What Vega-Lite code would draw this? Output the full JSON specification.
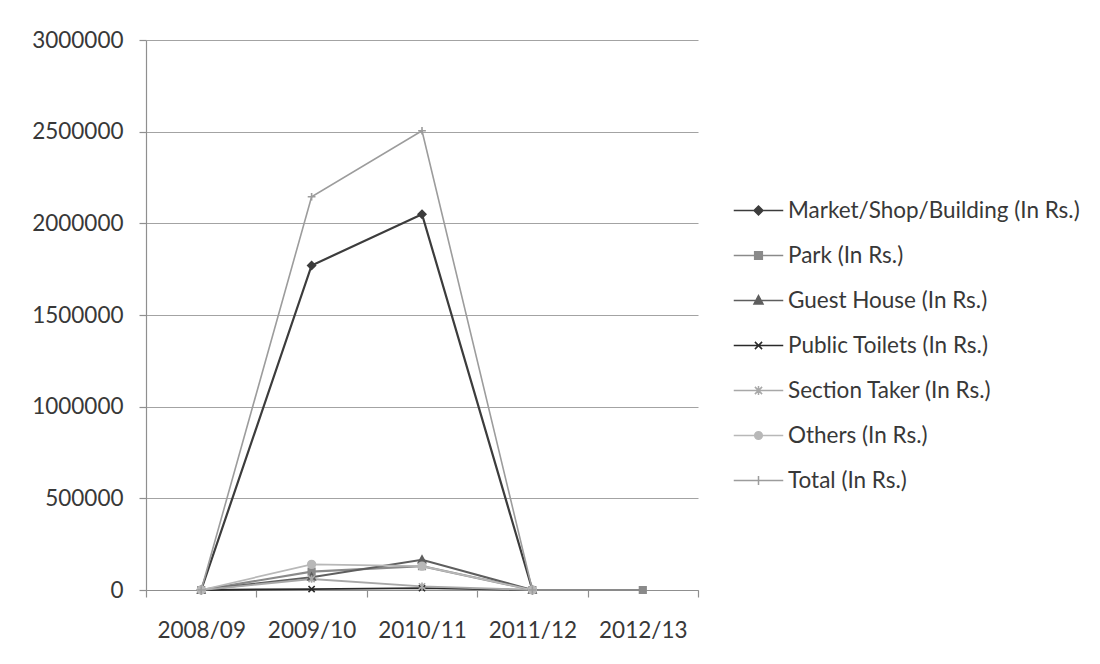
{
  "$schema": "https://vega.github.io/schema/vega-lite/v6.json",
  "width": 552,
  "height": 550,
  "autosize": {"type": "none"},
  "padding": {"left": 146, "top": 40, "right": 402, "bottom": 74},
  "background": "#ffffff",
  "config": {
    "view": {"stroke": null},
    "font": "Lato",
    "axis": {
      "labelFont": "Lato",
      "labelFontSize": 22.5,
      "labelColor": "#383838",
      "domainColor": "#8f8f8f",
      "tickColor": "#8f8f8f",
      "gridColor": "#a3a3a3",
      "domainWidth": 1.2,
      "tickWidth": 1.2,
      "gridWidth": 1.2,
      "tickSize": 7
    },
    "legend": {
      "labelFont": "Lato",
      "labelFontSize": 22.5,
      "labelColor": "#383838",
      "labelLimit": 400
    }
  },
  "data": {
    "values": [
      {"year": "2008/09", "series": "Market/Shop/Building (In Rs.)", "value": 0},
      {"year": "2008/09", "series": "Park (In Rs.)", "value": 0},
      {"year": "2008/09", "series": "Guest House (In Rs.)", "value": 0},
      {"year": "2008/09", "series": "\u00a0Public Toilets (In Rs.)", "value": 0},
      {"year": "2008/09", "series": "Section Taker (In Rs.)", "value": 0},
      {"year": "2008/09", "series": "Others (In Rs.)", "value": 0},
      {"year": "2008/09", "series": "Total (In Rs.)", "value": 0},
      {"year": "2009/10", "series": "Market/Shop/Building (In Rs.)", "value": 1770000},
      {"year": "2009/10", "series": "Park (In Rs.)", "value": 100000},
      {"year": "2009/10", "series": "Guest House (In Rs.)", "value": 70000},
      {"year": "2009/10", "series": "\u00a0Public Toilets (In Rs.)", "value": 5000},
      {"year": "2009/10", "series": "Section Taker (In Rs.)", "value": 60000},
      {"year": "2009/10", "series": "Others (In Rs.)", "value": 140000},
      {"year": "2009/10", "series": "Total (In Rs.)", "value": 2145000},
      {"year": "2010/11", "series": "Market/Shop/Building (In Rs.)", "value": 2050000},
      {"year": "2010/11", "series": "Park (In Rs.)", "value": 130000},
      {"year": "2010/11", "series": "Guest House (In Rs.)", "value": 165000},
      {"year": "2010/11", "series": "\u00a0Public Toilets (In Rs.)", "value": 10000},
      {"year": "2010/11", "series": "Section Taker (In Rs.)", "value": 20000},
      {"year": "2010/11", "series": "Others (In Rs.)", "value": 130000},
      {"year": "2010/11", "series": "Total (In Rs.)", "value": 2505000},
      {"year": "2011/12", "series": "Market/Shop/Building (In Rs.)", "value": 0},
      {"year": "2011/12", "series": "Park (In Rs.)", "value": 0},
      {"year": "2011/12", "series": "Guest House (In Rs.)", "value": 0},
      {"year": "2011/12", "series": "\u00a0Public Toilets (In Rs.)", "value": 0},
      {"year": "2011/12", "series": "Section Taker (In Rs.)", "value": 0},
      {"year": "2011/12", "series": "Others (In Rs.)", "value": 0},
      {"year": "2011/12", "series": "Total (In Rs.)", "value": 0},
      {"year": "2012/13", "series": "Park (In Rs.)", "value": 0}
    ]
  },
  "encoding": {
    "x": {
      "field": "year",
      "type": "ordinal",
      "sort": ["2008/09", "2009/10", "2010/11", "2011/12", "2012/13"],
      "scale": {"type": "band", "paddingInner": 0, "paddingOuter": 0},
      "bandPosition": 0.5,
      "axis": {"title": null, "labelAngle": 0, "tickBand": "extent", "grid": false, "labelPadding": 22}
    },
    "y": {
      "field": "value",
      "type": "quantitative",
      "scale": {"domain": [0, 3000000], "nice": false},
      "axis": {
        "title": null,
        "values": [0, 500000, 1000000, 1500000, 2000000, 2500000, 3000000],
        "format": "d",
        "labelPadding": 16,
        "grid": true
      }
    }
  },
  "layer": [
    {
      "mark": {"type": "line"},
      "encoding": {
        "stroke": {
          "field": "series",
          "type": "nominal",
          "scale": {
            "domain": ["Market/Shop/Building (In Rs.)", "Park (In Rs.)", "Guest House (In Rs.)", "\u00a0Public Toilets (In Rs.)", "Section Taker (In Rs.)", "Others (In Rs.)", "Total (In Rs.)"],
            "range": ["#3c3c3c", "#8a8a8a", "#5e5e5e", "#2a2a2a", "#a8a8a8", "#b8b8b8", "#9c9c9c"]
          },
          "legend": null
        },
        "strokeWidth": {
          "field": "series",
          "type": "nominal",
          "scale": {
            "domain": ["Market/Shop/Building (In Rs.)", "Park (In Rs.)", "Guest House (In Rs.)", "\u00a0Public Toilets (In Rs.)", "Section Taker (In Rs.)", "Others (In Rs.)", "Total (In Rs.)"],
            "range": [2.2, 1.6, 1.8, 2.2, 1.5, 1.6, 1.6]
          },
          "legend": null
        }
      }
    },
    {
      "mark": {"type": "point", "filled": true, "opacity": 1, "strokeWidth": 1.6, "size": 60},
      "encoding": {
        "shape": {
          "field": "series",
          "type": "nominal",
          "scale": {
            "domain": ["Market/Shop/Building (In Rs.)", "Park (In Rs.)", "Guest House (In Rs.)", "\u00a0Public Toilets (In Rs.)", "Section Taker (In Rs.)", "Others (In Rs.)", "Total (In Rs.)"],
            "range": [
              "M0,-1L1,0L0,1L-1,0Z",
              "M-0.85,-0.85H0.85V0.85H-0.85Z",
              "M0,-1L0.95,0.75H-0.95Z",
              "M-0.8,-0.8L0.8,0.8M-0.8,0.8L0.8,-0.8",
              "M-0.8,-0.8L0.8,0.8M-0.8,0.8L0.8,-0.8M0,-1V1",
              "circle",
              "M-1,0H1M0,-1V1"
            ]
          },
          "legend": null
        },
        "fill": {
          "field": "series",
          "type": "nominal",
          "scale": {
            "domain": ["Market/Shop/Building (In Rs.)", "Park (In Rs.)", "Guest House (In Rs.)", "\u00a0Public Toilets (In Rs.)", "Section Taker (In Rs.)", "Others (In Rs.)", "Total (In Rs.)"],
            "range": ["#3c3c3c", "#8a8a8a", "#5e5e5e", "#2a2a2a", "#a8a8a8", "#b8b8b8", "#9c9c9c"]
          },
          "legend": null
        },
        "stroke": {
          "field": "series",
          "type": "nominal",
          "scale": {
            "domain": ["Market/Shop/Building (In Rs.)", "Park (In Rs.)", "Guest House (In Rs.)", "\u00a0Public Toilets (In Rs.)", "Section Taker (In Rs.)", "Others (In Rs.)", "Total (In Rs.)"],
            "range": ["#3c3c3c", "#8a8a8a", "#5e5e5e", "#2a2a2a", "#a8a8a8", "#b8b8b8", "#9c9c9c"]
          },
          "legend": null
        }
      }
    },
    {
      "transform": [{"filter": "false"}],
      "mark": {"type": "point", "filled": true, "opacity": 1, "strokeWidth": 1.6},
      "encoding": {
        "shape": {
          "field": "series",
          "type": "nominal",
          "scale": {
            "domain": ["Market/Shop/Building (In Rs.)", "Park (In Rs.)", "Guest House (In Rs.)", "\u00a0Public Toilets (In Rs.)", "Section Taker (In Rs.)", "Others (In Rs.)", "Total (In Rs.)"],
            "range": [
              "M-1.1,0H1.1M0,-0.2L0.2,0L0,0.2L-0.2,0Z",
              "M-1.1,0H1.1M-0.17,-0.17H0.17V0.17H-0.17Z",
              "M-1.1,0H1.1M0,-0.22L0.2,0.15H-0.2Z",
              "M-1.1,0H1.1M-0.16,-0.16L0.16,0.16M-0.16,0.16L0.16,-0.16",
              "M-1.1,0H1.1M-0.16,-0.16L0.16,0.16M-0.16,0.16L0.16,-0.16M0,-0.2V0.2",
              "M-1.1,0H1.1M0.17,0A0.17,0.17,0,1,1,-0.17,0A0.17,0.17,0,1,1,0.17,0Z",
              "M-1.1,0H1.1M0,-0.2V0.2"
            ]
          },
          "legend": {
            "title": null,
            "orient": "none",
            "legendX": 589,
            "legendY": 147,
            "symbolSize": 2025,
            "symbolStrokeWidth": 1.5,
            "symbolOpacity": 1,
            "labelOffset": 6,
            "rowPadding": 10
          }
        },
        "fill": {
          "field": "series",
          "type": "nominal",
          "scale": {
            "domain": ["Market/Shop/Building (In Rs.)", "Park (In Rs.)", "Guest House (In Rs.)", "\u00a0Public Toilets (In Rs.)", "Section Taker (In Rs.)", "Others (In Rs.)", "Total (In Rs.)"],
            "range": ["#3c3c3c", "#8a8a8a", "#5e5e5e", "#2a2a2a", "#a8a8a8", "#b8b8b8", "#9c9c9c"]
          },
          "legend": {
            "title": null,
            "orient": "none",
            "legendX": 589,
            "legendY": 147,
            "symbolSize": 2025,
            "symbolStrokeWidth": 1.5,
            "symbolOpacity": 1,
            "labelOffset": 6,
            "rowPadding": 10
          }
        },
        "stroke": {
          "field": "series",
          "type": "nominal",
          "scale": {
            "domain": ["Market/Shop/Building (In Rs.)", "Park (In Rs.)", "Guest House (In Rs.)", "\u00a0Public Toilets (In Rs.)", "Section Taker (In Rs.)", "Others (In Rs.)", "Total (In Rs.)"],
            "range": ["#3c3c3c", "#8a8a8a", "#5e5e5e", "#2a2a2a", "#a8a8a8", "#b8b8b8", "#9c9c9c"]
          },
          "legend": {
            "title": null,
            "orient": "none",
            "legendX": 589,
            "legendY": 147,
            "symbolSize": 2025,
            "symbolStrokeWidth": 1.5,
            "symbolOpacity": 1,
            "labelOffset": 6,
            "rowPadding": 10
          }
        }
      }
    }
  ],
  "resolve": {
    "scale": {"shape": "independent", "fill": "independent", "stroke": "independent", "strokeWidth": "independent"}
  }
}
